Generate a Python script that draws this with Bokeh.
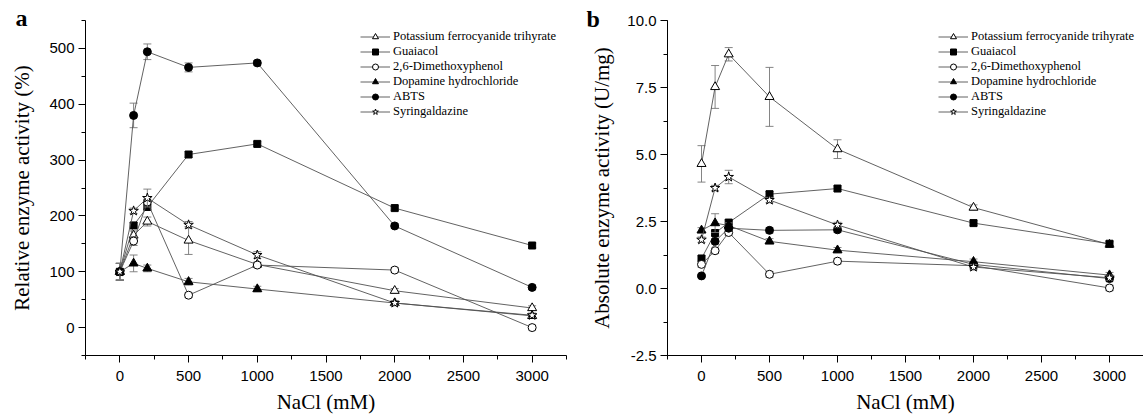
from bokeh.plotting import figure
from bokeh.layouts import row
from bokeh.models import (Legend, LegendItem, SingleIntervalTicker, PrintfTickFormatter,
                          Range1d, Title)
from bokeh.embed import file_html
from bokeh.resources import INLINE

# ---------------- data ----------------
nacl = [0, 100, 200, 500, 1000, 2000, 3000]

series_names = ["Potassium ferrocyanide trihyrate", "Guaiacol", "2,6-Dimethoxyphenol",
                "Dopamine hydrochloride", "ABTS", "Syringaldazine"]
series_markers = ["triangle", "square", "circle", "triangle", "circle", "star"]
series_fills = ["white", "black", "white", "black", "black", "white"]
series_sizes = [9, 7, 8, 9, 8, 10]

# Panel a: relative enzyme activity (%)
rel_kfe = [100, 165, 190, 156, 113, 66, 35]
rel_guaiacol = [100, 183, 216, 310, 329, 214, 147]
rel_dmp = [100, 155, 225, 58, 112, 103, 0]
rel_dopamine = [100, 115, 106, 82, 69, 44, 21]
rel_abts = [100, 380, 494, 466, 474, 182, 72]
rel_syring = [100, 209, 232, 184, 130, 44, 22]

rel_kfe_err = [15, 8, 8, 25, 4, 4, 4]
rel_guaiacol_err = [15, 5, 5, 5, 4, 4, 4]
rel_dmp_err = [15, 8, 5, 4, 4, 4, 4]
rel_dopamine_err = [15, 15, 6, 6, 5, 4, 4]
rel_abts_err = [15, 22, 14, 8, 4, 4, 4]
rel_syring_err = [15, 5, 16, 6, 6, 4, 4]

# Panel b: absolute enzyme activity (U/mg)
abs_kfe = [4.65, 7.52, 8.74, 7.15, 5.20, 3.02, 1.64]
abs_guaiacol = [1.12, 2.07, 2.46, 3.52, 3.73, 2.44, 1.67]
abs_dmp = [0.90, 1.41, 2.09, 0.53, 1.02, 0.85, 0.02]
abs_dopamine = [2.17, 2.44, 2.35, 1.76, 1.43, 1.00, 0.50]
abs_abts = [0.47, 1.76, 2.25, 2.17, 2.19, 0.90, 0.37]
abs_syring = [1.82, 3.75, 4.16, 3.30, 2.37, 0.80, 0.40]

abs_kfe_err = [0.68, 0.80, 0.25, 1.10, 0.35, 0.10, 0.10]
abs_guaiacol_err = [0.10, 0.10, 0.10, 0.10, 0.10, 0.10, 0.10]
abs_dmp_err = [0.10, 0.10, 0.10, 0.10, 0.10, 0.10, 0.10]
abs_dopamine_err = [0.10, 0.35, 0.10, 0.10, 0.10, 0.10, 0.10]
abs_abts_err = [0.05, 0.10, 0.10, 0.10, 0.10, 0.10, 0.10]
abs_syring_err = [0.10, 0.10, 0.25, 0.10, 0.10, 0.10, 0.10]

rel_values = [rel_kfe, rel_guaiacol, rel_dmp, rel_dopamine, rel_abts, rel_syring]
rel_errors = [rel_kfe_err, rel_guaiacol_err, rel_dmp_err, rel_dopamine_err, rel_abts_err, rel_syring_err]
abs_values = [abs_kfe, abs_guaiacol, abs_dmp, abs_dopamine, abs_abts, abs_syring]
abs_errors = [abs_kfe_err, abs_guaiacol_err, abs_dmp_err, abs_dopamine_err, abs_abts_err, abs_syring_err]

LINE_COLOR = "#505050"
ERR_COLOR = "#777777"


def make_panel(width, y_range, y_interval, y_label, values, errors, borders,
               legend_loc, letter, letter_offset, letter_standoff, y_fmt=None,
               ylabel_standoff=12):
    bl, br, bt, bb = borders
    p = figure(width=width, height=417, output_backend="svg", toolbar_location=None,
               x_range=Range1d(-250, 3250), y_range=Range1d(*y_range),
               min_border_left=bl, min_border_right=br, min_border_top=bt,
               min_border_bottom=bb)
    p.title = Title(text=letter, align="left", vertical_align="bottom",
                    offset=letter_offset, standoff=letter_standoff,
                    text_font="Liberation Serif", text_font_size="24px",
                    text_font_style="bold", text_color="black")
    p.outline_line_color = None
    p.xgrid.visible = False
    p.ygrid.visible = False
    p.background_fill_color = "white"
    p.border_fill_color = "white"

    p.xaxis.ticker = SingleIntervalTicker(interval=500, num_minor_ticks=2)
    p.yaxis.ticker = SingleIntervalTicker(interval=y_interval, num_minor_ticks=2)
    if y_fmt:
        p.yaxis.formatter = PrintfTickFormatter(format=y_fmt)
    for ax in (p.xaxis, p.yaxis):
        ax.axis_line_color = "black"
        ax.axis_line_width = 1
        ax.major_tick_line_color = "black"
        ax.minor_tick_line_color = "black"
        ax.major_tick_out = 7
        ax.major_tick_in = 0
        ax.minor_tick_out = 4
        ax.minor_tick_in = 0
        ax.major_label_text_font = "Liberation Sans"
        ax.major_label_text_font_size = "15px"
        ax.major_label_text_color = "black"
        ax.axis_label_text_font = "Liberation Serif"
        ax.axis_label_text_font_size = "21px"
        ax.axis_label_text_font_style = "normal"
        ax.axis_label_text_color = "black"
    p.xaxis.major_label_standoff = 8
    p.yaxis.major_label_standoff = 4
    p.xaxis.axis_label = "NaCl (mM)"
    p.yaxis.axis_label = y_label
    p.xaxis.axis_label_standoff = 6
    p.yaxis.axis_label_standoff = ylabel_standoff

    items = []
    for name, mk, fc, sz, vals, errs in zip(series_names, series_markers, series_fills,
                                           series_sizes, values, errors):
        hi = [v + e for v, e in zip(vals, errs)]
        lo = [v - e for v, e in zip(vals, errs)]
        p.segment(x0=nacl, y0=lo, x1=nacl, y1=hi, line_color=ERR_COLOR, line_width=0.9)
        p.scatter(nacl, hi, marker="dash", size=8, line_color=ERR_COLOR, line_width=0.9)
        p.scatter(nacl, lo, marker="dash", size=8, line_color=ERR_COLOR, line_width=0.9)
        ln = p.line(nacl, vals, line_color=LINE_COLOR, line_width=0.9)
        sc = p.scatter(nacl, vals, marker=mk, size=sz, fill_color=fc,
                       line_color="black", line_width=1)
        items.append(LegendItem(label=name, renderers=[ln, sc]))

    legend = Legend(items=items, location=legend_loc, padding=0, margin=0,
                    glyph_width=30, glyph_height=15, label_height=15, spacing=0,
                    label_standoff=3, label_text_font="Liberation Serif",
                    label_text_font_size="12.5px", label_text_color="black",
                    border_line_alpha=0, background_fill_alpha=0)
    p.add_layout(legend)
    return p


pa = make_panel(571, (-50, 550), 100, "Relative enzyme activity (%)", rel_values, rel_errors,
                (85, 5, 14, 62), (275, 236), "a", -70, -20, ylabel_standoff=12)
pb = make_panel(572, (-2.5, 10.0), 2.5, "Absolute enzyme activity (U/mg)", abs_values,
                abs_errors, (96, 0, 20, 58), (271, 236), "b", -81, -23, y_fmt="%.1f",
                ylabel_standoff=10)

layout = row(pa, pb)
open("out.html", "w").write(file_html(layout, INLINE))
